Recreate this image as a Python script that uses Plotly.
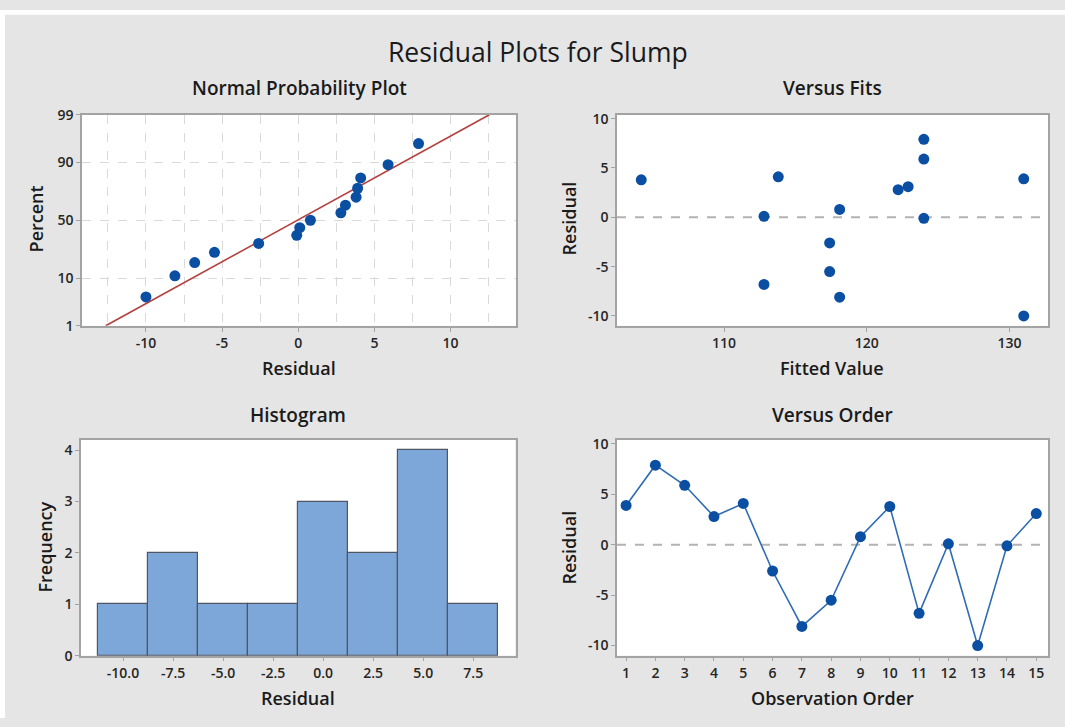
import statistics
import plotly.graph_objects as go

# Residual diagnostics for the Slump regression model
order = list(range(1, 16))
residuals = [3.9, 7.9, 5.9, 2.8, 4.1, -2.6, -8.1, -5.5, 0.8, 3.8, -6.8, 0.1, -10.0, -0.1, 3.1]
fitted = [131.0, 124.0, 124.0, 122.2, 113.8, 117.4, 118.1, 117.4, 118.1, 104.2, 112.8, 112.8, 131.0, 124.0, 122.9]

prob_tick_pct = [1, 10, 50, 90, 99]
prob_tick_text = ["1", "10", "50", "90", "99"]
npp_x_ticks = [-10, -5, 0, 5, 10]
npp_x_text = ["-10", "-5", "0", "5", "10"]
fit_ticks = [110, 120, 130]
resid_ticks = [-10, -5, 0, 5, 10]
resid_text = ["-10", "-5", "0", "5", "10"]
hist_ticks = [-10.0, -7.5, -5.0, -2.5, 0.0, 2.5, 5.0, 7.5]
hist_text = ["-10.0", "-7.5", "-5.0", "-2.5", "0.0", "2.5", "5.0", "7.5"]

W, H = 1065, 727
BG = "#e5e5e5"
BLUE = "#0b4fa3"
LINE_BLUE = "#2f6cb3"
FIT_RED = "#b5413f"
BORDER = "#a3a3a3"
TXT = "#1a1a1a"
FONT = "Open Sans"

nd = statistics.NormalDist()
n = len(residuals)
sorted_res = sorted(residuals)
# Benard median-rank plotting positions
pct = [(i - 0.3) / (n + 0.4) for i in range(1, n + 1)]
z_pts = [nd.inv_cdf(p) for p in pct]
mu = statistics.mean(residuals)
sd = statistics.stdev(residuals)
z_lo, z_hi = nd.inv_cdf(0.01), nd.inv_cdf(0.99)
fit_line_x = [mu + sd * z_lo, mu + sd * z_hi]
fit_line_z = [z_lo, z_hi]


def xd(a, b):
    return [a / W, b / W]


def yd(top, bottom):
    return [1 - bottom / H, 1 - top / H]


fig = go.Figure()

# Normal probability plot
fig.add_trace(go.Scatter(x=fit_line_x, y=fit_line_z, mode="lines",
                         line=dict(color=FIT_RED, width=1.6),
                         xaxis="x", yaxis="y", hoverinfo="skip"))
fig.add_trace(go.Scatter(x=sorted_res, y=z_pts, mode="markers",
                         marker=dict(color=BLUE, size=11),
                         xaxis="x", yaxis="y"))

# Versus fits
fig.add_trace(go.Scatter(x=fitted, y=residuals, mode="markers",
                         marker=dict(color=BLUE, size=11),
                         xaxis="x2", yaxis="y2"))

# Histogram
fig.add_trace(go.Histogram(x=residuals, xbins=dict(start=-11.25, end=8.75, size=2.5),
                           marker=dict(color="#7ea7d9", line=dict(color="#4f5563", width=1.2)),
                           xaxis="x3", yaxis="y3"))

# Versus order
fig.add_trace(go.Scatter(x=order, y=residuals, mode="lines+markers",
                         line=dict(color=LINE_BLUE, width=1.6),
                         marker=dict(color=BLUE, size=11),
                         xaxis="x4", yaxis="y4"))

tickfont = dict(family=FONT, size=14, color="#262626", weight=600)
common = dict(showline=True, mirror=True, linecolor=BORDER, linewidth=1.5,
              ticks="outside", ticklen=4, tickcolor=BORDER, tickwidth=1,
              zeroline=False, showgrid=False, tickfont=tickfont, fixedrange=True)

gridded = {**common, "showgrid": True, "gridcolor": "#d9d9d9",
           "gridwidth": 1.2, "griddash": "dash"}

top_row = yd(107.5, 324.3)
bot_row = yd(441.5, 663)

fig.update_layout(
    width=W, height=H,
    margin=dict(l=0, r=0, t=0, b=0),
    paper_bgcolor=BG, plot_bgcolor="white",
    showlegend=False, bargap=0,
    font=dict(family=FONT, color=TXT),
    xaxis=dict(domain=xd(82, 516), anchor="y", range=[-14.2, 14.3],
               tickvals=npp_x_ticks, ticktext=npp_x_text,
               minor=dict(dtick=2.5, tick0=0, showgrid=True, gridcolor="#d9d9d9",
                          gridwidth=1.2, griddash="dash", ticks=""),
               **gridded),
    yaxis=dict(domain=top_row, anchor="x", range=[z_lo, z_hi],
               tickvals=[nd.inv_cdf(p / 100) for p in prob_tick_pct],
               ticktext=prob_tick_text, **gridded),
    xaxis2=dict(domain=xd(617, 1048), anchor="y2", range=[102.5, 132.7],
                tickvals=fit_ticks, **common),
    yaxis2=dict(domain=top_row, anchor="x2", range=[-11.0, 10.4],
                tickvals=resid_ticks, ticktext=resid_text, **common),
    xaxis3=dict(domain=xd(81, 515.5), anchor="y3", range=[-12.1, 9.61],
                tickvals=hist_ticks, ticktext=hist_text, **common),
    yaxis3=dict(domain=bot_row, anchor="x3", range=[0, 4.2], dtick=1, **common),
    xaxis4=dict(domain=xd(617, 1048), anchor="y4", range=[0.69, 15.4],
                tickvals=order, **common),
    yaxis4=dict(domain=bot_row, anchor="x4", range=[-11.0, 10.4],
                tickvals=resid_ticks, ticktext=resid_text, **common),
)

# Zero reference lines on the residual panels
for ax in ("2", "4"):
    fig.add_shape(type="line", xref=f"x{ax} domain", yref=f"y{ax}",
                  x0=0, x1=1, y0=0, y1=0, layer="below",
                  line=dict(color="#b3b3b3", width=2, dash="dash"))

# White frame strips at the top and left edge
fig.add_shape(type="rect", xref="paper", yref="paper", x0=0, x1=1,
              y0=1 - 5 / H, y1=1, line=dict(width=0), fillcolor="white", layer="below")
fig.add_shape(type="rect", xref="paper", yref="paper", x0=0, x1=5 / W,
              y0=0, y1=1, line=dict(width=0), fillcolor="white", layer="below")


def label(text, x, y, size, weight=600, angle=0):
    fig.add_annotation(text=text, x=x / W, y=1 - y / H, xref="paper", yref="paper",
                       showarrow=False, textangle=angle, xanchor="center", yanchor="middle",
                       font=dict(family=FONT, size=size, color=TXT, weight=weight))


label("Residual Plots for Slump", 538, 43, 26.5, weight=500)
label("Normal Probability Plot", 299, 80, 19)
label("Versus Fits", 832, 80, 19)
label("Histogram", 298, 416, 19)
label("Versus Order", 832, 416, 19)

label("Residual", 299, 368, 18)
label("Fitted Value", 832, 368, 18)
label("Residual", 298, 706, 18)
label("Observation Order", 832, 706, 18)

label("Percent", 36, 214, 18, angle=-90)
label("Residual", 569, 214, 18, angle=-90)
label("Frequency", 45, 552, 18, angle=-90)
label("Residual", 569, 552, 18, angle=-90)

fig.write_html("out.html")
